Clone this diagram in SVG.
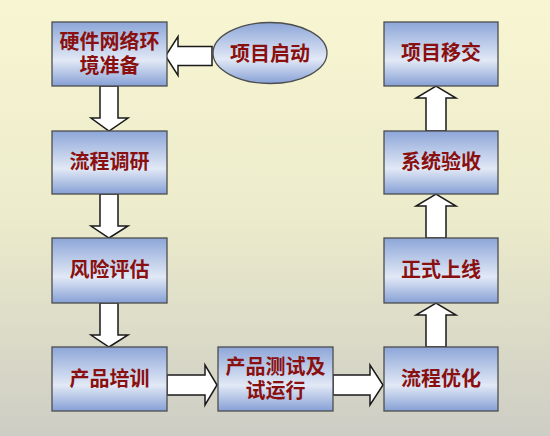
<svg xmlns="http://www.w3.org/2000/svg" width="550" height="436" viewBox="0 0 550 436">
<defs>
<linearGradient id="bg" x1="0" y1="0" x2="0" y2="1">
<stop offset="0" stop-color="#f8f6d2"/>
<stop offset="0.5" stop-color="#ecebcb"/>
<stop offset="1" stop-color="#cdcdc5"/>
</linearGradient>
<linearGradient id="box" x1="0" y1="0" x2="0" y2="1">
<stop offset="0" stop-color="#8da6d8"/>
<stop offset="0.6" stop-color="#e2e9f6"/>
<stop offset="1" stop-color="#86a0d5"/>
</linearGradient>
<style>
.b{fill:url(#box);stroke:#4d4d4d;stroke-width:1.3}
.t{font-family:"Noto Sans CJK SC","Noto Sans",sans-serif;font-weight:bold;font-size:20px;fill:#8a1010;text-anchor:middle}
.a{fill:#ffffff;stroke:#1a1a1a;stroke-width:1.5;stroke-linejoin:miter}
</style>
</defs>
<rect width="550" height="436" fill="url(#bg)"/>
<g id="connectors">
<polygon class="a" points="212,46.5 178,46.5 178,36.5 165.5,56 178,75.5 178,65.5 212,65.5"/>
<polygon class="a" points="100,86 118,86 118,118 128,118 109,131 91,118 100,118"/>
<polygon class="a" points="100,194 118,194 118,226 128,226 109,238 91,226 100,226"/>
<polygon class="a" points="100,303 118,303 118,335 128,335 109,347 91,335 100,335"/>
<polygon class="a" points="167,375 205,375 205,365 217,385 205,405 205,395 167,395"/>
<polygon class="a" points="333,375 370,375 370,365 383,385 370,405 370,395 333,395"/>
<polygon class="a" points="426,347 446,347 446,315 456,315 436,303 416,315 426,315"/>
<polygon class="a" points="426,238 446,238 446,206 456,206 436,194 416,206 426,206"/>
<polygon class="a" points="426,131 446,131 446,98 456,98 436,86 416,98 426,98"/>
</g>
<g id="n1"><rect class="b" x="52" y="22" width="115" height="64"/><text class="t" x="109.5" y="49"><tspan x="109.5">硬件网络环</tspan><tspan x="109.5" dy="24">境准备</tspan></text></g>
<g id="n0"><ellipse class="b" cx="270" cy="53" rx="57" ry="30.5"/><text class="t" x="270" y="61">项目启动</text></g>
<g id="n2"><rect class="b" x="52" y="131" width="115" height="63"/><text class="t" x="109.5" y="169">流程调研</text></g>
<g id="n3"><rect class="b" x="52" y="238" width="115" height="65"/><text class="t" x="109.5" y="277">风险评估</text></g>
<g id="n4"><rect class="b" x="52" y="347" width="115" height="64"/><text class="t" x="109.5" y="386">产品培训</text></g>
<g id="n5"><rect class="b" x="218" y="347" width="115" height="64"/><text class="t" x="275.5" y="374"><tspan x="275.5">产品测试及</tspan><tspan x="275.5" dy="24">试运行</tspan></text></g>
<g id="n6"><rect class="b" x="384" y="347" width="114" height="64"/><text class="t" x="441" y="386">流程优化</text></g>
<g id="n7"><rect class="b" x="384" y="238" width="114" height="65"/><text class="t" x="441" y="277">正式上线</text></g>
<g id="n8"><rect class="b" x="384" y="131" width="114" height="63"/><text class="t" x="441" y="169">系统验收</text></g>
<g id="n9"><rect class="b" x="384" y="22" width="114" height="64"/><text class="t" x="441" y="60">项目移交</text></g>
</svg>
